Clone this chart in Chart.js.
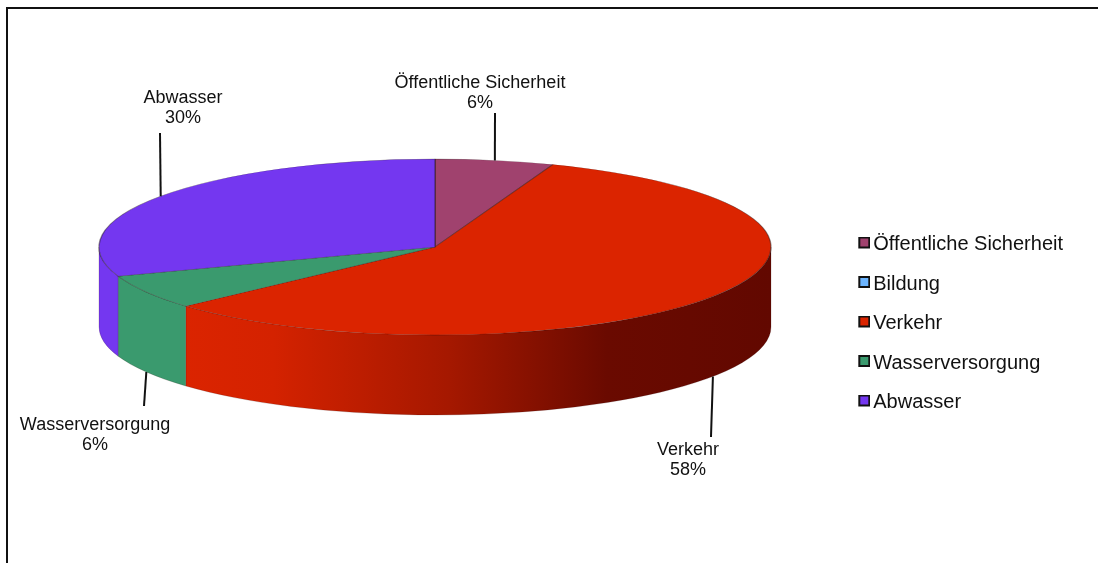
<!DOCTYPE html>
<html>
<head>
<meta charset="utf-8">
<script src="https://cdn.jsdelivr.net/npm/chart.js@4"></script>
<style>
    html, body { margin: 0; padding: 0; background: #fff; overflow: hidden; }
    #rahmen { position: absolute; left: 6px; top: 7px; width: 1092px; height: 556px; border-left: 2px solid #111; border-top: 2px solid #111; box-sizing: border-box; }
    #pie { position: absolute; left: 0; top: 0; }
</style>
</head>
<body>
<div id="rahmen"></div>
<canvas id="pie" width="1098" height="563"></canvas>
<script>
    var categories = ['Öffentliche Sicherheit', 'Bildung', 'Verkehr', 'Wasserversorgung', 'Abwasser'];
    var shares = [5.7, 0, 57.6, 6.3, 30.4];
    var colors = ['#A0426E', '#6CB5FF', '#DB2400', '#3A9A6E', '#7437F0'];

    // ellipse of the top face and height of the side wall
    var centerX = 435, centerY = 247, radiusX = 336, radiusY = 88, depth = 80;

    // leader lines: outer end of the line, centre of the label
    var callouts = {
        0: { end: [495, 113], text: [480, 82] },
        2: { end: [711, 437], text: [688, 449] },
        3: { end: [144, 406], text: [95, 424] },
        4: { end: [160, 133], text: [183, 97] }
    };

    // box sits off-centre in the image so the legend text comes close to it
    function legendBox(color) {
        var c = document.createElement('canvas');
        c.width = 15;
        c.height = 16;
        var g = c.getContext('2d');
        g.fillStyle = '#111';
        g.fillRect(3, 0, 12, 12);
        g.fillStyle = color;
        g.fillRect(5, 2, 8, 8);
        return c;
    }

    function wallFill(ctx, index) {
        if (index != 2) return colors[index];
        var grad = ctx.createLinearGradient(185, 0, 771, 0);
        grad.addColorStop(0, '#DB2400');
        grad.addColorStop(0.15, '#D42200');
        grad.addColorStop(0.45, '#A51800');
        grad.addColorStop(0.72, '#6A0A00');
        grad.addColorStop(1, '#620800');
        return grad;
    }

    var pie3d = {
        id: 'pie3d',
        beforeDatasetDraw: function(chart) {
            var ctx = chart.ctx;
            var arcs = chart.getDatasetMeta(0).data;

            // side walls first, only the part of each slice facing the viewer
            arcs.forEach(function(arc, i) {
                var from = Math.max(arc.startAngle, 0);
                var to = Math.min(arc.endAngle, Math.PI);
                if (to <= from) return;
                ctx.beginPath();
                ctx.ellipse(centerX, centerY, radiusX, radiusY, 0, from, to);
                ctx.ellipse(centerX, centerY + depth, radiusX, radiusY, 0, to, from, true);
                ctx.closePath();
                ctx.fillStyle = wallFill(ctx, i);
                ctx.fill();
                ctx.strokeStyle = 'rgba(40,0,0,0.25)';
                ctx.lineWidth = 0.7;
                ctx.stroke();
            });

            // flatten the circular pie of the library to the top ellipse
            var first = arcs[0];
            ctx.save();
            ctx.translate(centerX, centerY);
            ctx.scale(radiusX / first.outerRadius, radiusY / first.outerRadius);
            ctx.translate(-first.x, -first.y);
        },
        afterDatasetDraw: function(chart) {
            chart.ctx.restore();
        },
        afterDraw: function(chart) {
            var ctx = chart.ctx;
            var arcs = chart.getDatasetMeta(0).data;
            ctx.save();
            ctx.font = '18px "Liberation Sans", Arial, sans-serif';
            ctx.textAlign = 'center';
            ctx.textBaseline = 'middle';
            ctx.fillStyle = '#111';
            ctx.strokeStyle = '#111';
            ctx.lineWidth = 2;
            Object.keys(callouts).forEach(function(key) {
                var i = parseInt(key);
                var c = callouts[key];
                var mid = (arcs[i].startAngle + arcs[i].endAngle) / 2;
                var rimX = centerX + radiusX * Math.cos(mid);
                var rimY = centerY + radiusY * Math.sin(mid);
                if (Math.sin(mid) > 0) rimY += depth;
                ctx.beginPath();
                ctx.moveTo(rimX, rimY);
                ctx.lineTo(c.end[0], c.end[1]);
                ctx.stroke();
                ctx.fillText(categories[i], c.text[0], c.text[1] + 1);
                ctx.fillText(Math.round(shares[i]) + '%', c.text[0], c.text[1] + 21);
            });
            ctx.restore();
        }
    };

    var myPieChart = new Chart(document.getElementById('pie').getContext('2d'), {
        type: 'pie',
        plugins: [pie3d],
        data: {
            labels: categories,
            datasets: [
                {
                    data: shares,
                    backgroundColor: colors,
                    borderColor: 'rgba(30,20,20,0.45)',
                    borderWidth: 1,
                    clip: false
                }
            ]
        },
        options: {
            responsive: false,
            animation: false,
            layout: { padding: { top: 84, right: 25, bottom: 0, left: 0 } },
            plugins: {
                tooltip: { enabled: false },
                legend: {
                    position: 'right',
                    labels: {
                        usePointStyle: true,
                        boxWidth: 1,
                        padding: 19.5,
                        color: '#111',
                        font: { family: '"Liberation Sans", Arial, sans-serif', size: 20 },
                        generateLabels: function(chart) {
                            return Chart.overrides.pie.plugins.legend.labels.generateLabels(chart).map(function(item, i) {
                                item.pointStyle = legendBox(colors[i]);
                                return item;
                            });
                        }
                    }
                }
            }
        }
    });
</script>
</body>
</html>
